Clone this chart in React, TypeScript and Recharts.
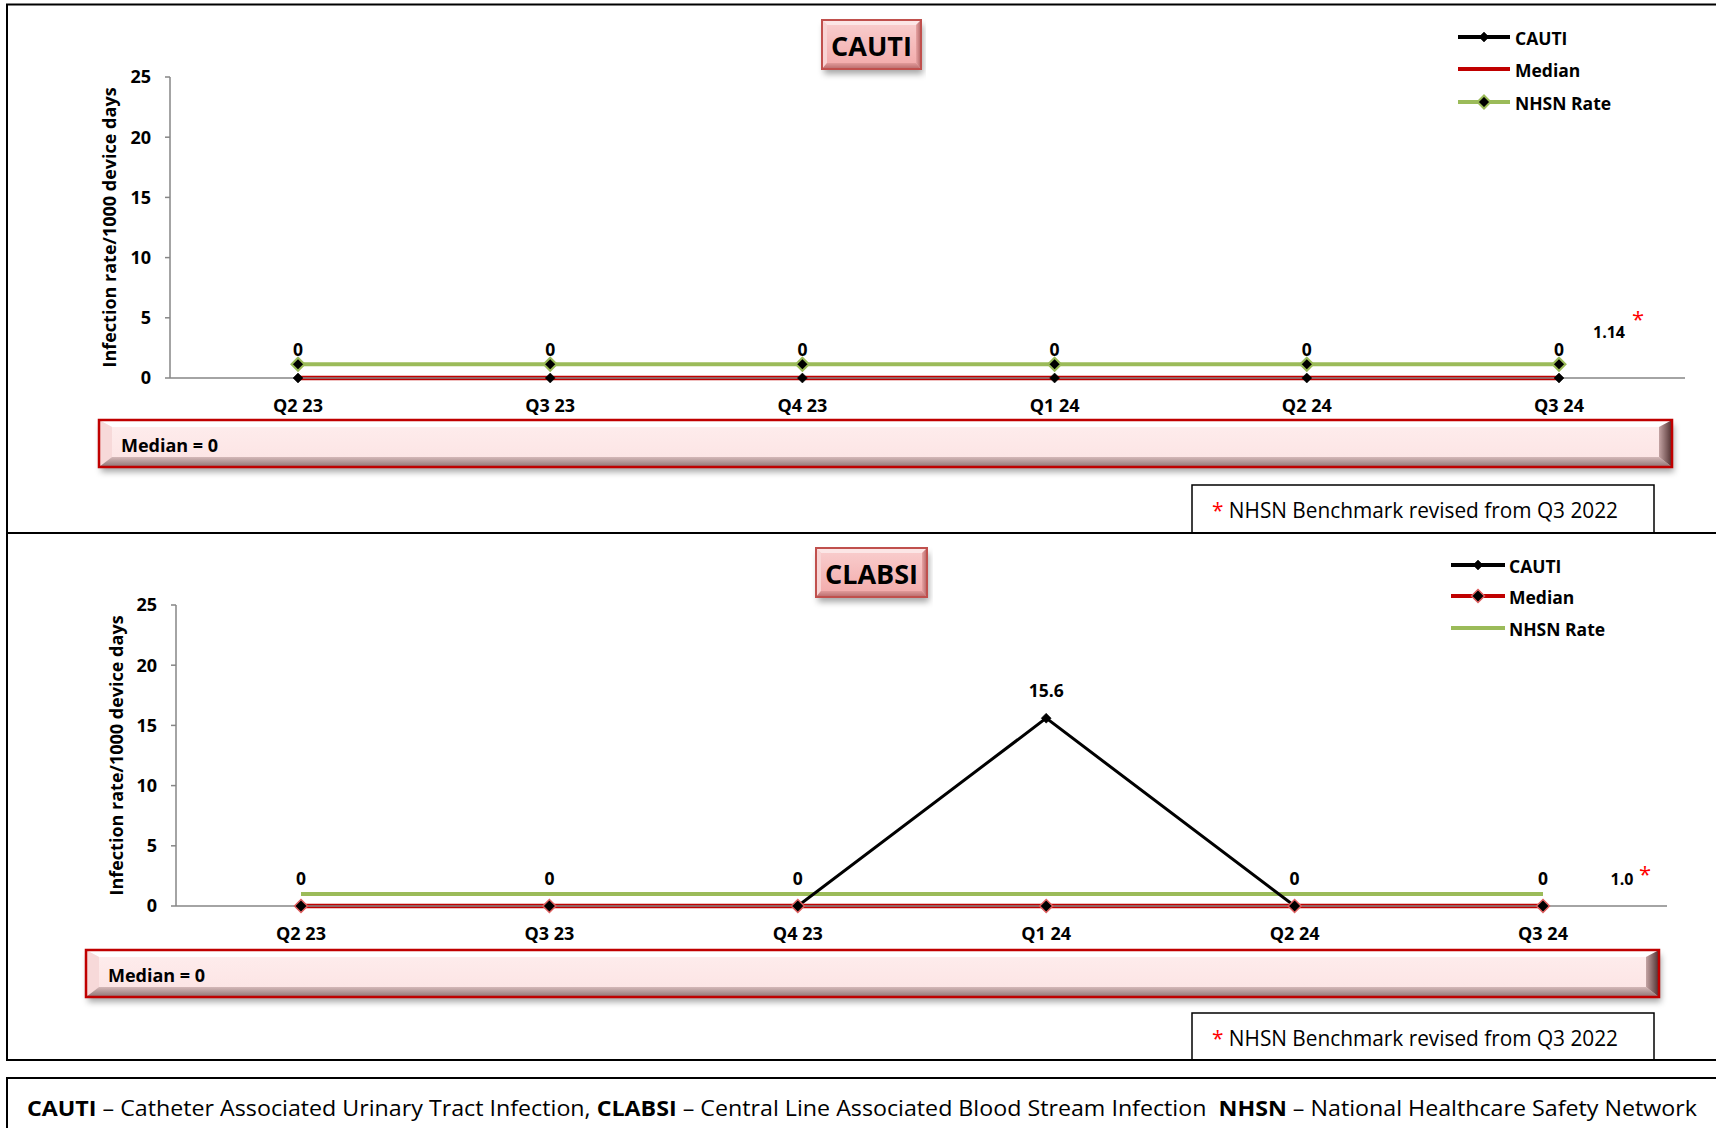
import React from "react";
import { LineChart, Line, XAxis, YAxis, LabelList } from "recharts";

const categories = ["Q2 23", "Q3 23", "Q4 23", "Q1 24", "Q2 24", "Q3 24"];
const cautiRates = [0, 0, 0, 0, 0, 0];
const cautiMedian = [0, 0, 0, 0, 0, 0];
const cautiNhsn = [1.14, 1.14, 1.14, 1.14, 1.14, 1.14];
const clabsiRates = [0, 0, 0, 15.6, 0, 0];
const clabsiMedian = [0, 0, 0, 0, 0, 0];
const clabsiNhsn = [1.0, 1.0, 1.0, 1.0, 1.0, 1.0];
const yTicks = [0, 5, 10, 15, 20, 25];
const legendNames = ["CAUTI", "Median", "NHSN Rate"];
const panelTitles = ["CAUTI", "CLABSI"];
const yAxisTitle = "Infection rate/1000 device days";
const footnoteText = "NHSN Benchmark revised from Q3 2022";

const FONT = "'Open Sans', 'Noto Sans', sans-serif";
const RED = "#C00000";
const GREEN = "#9BBB59";
const AXIS = "#868686";

const buildData = (rate: number[], median: number[], nhsn: number[]) =>
  categories.map((q, i) => ({ q, rate: rate[i], median: median[i], nhsn: nhsn[i] }));

const cautiData = buildData(cautiRates, cautiMedian, cautiNhsn);
const clabsiData = buildData(clabsiRates, clabsiMedian, clabsiNhsn);

const diamond = (half: number, fill: string, stroke: string, sw: number) => (props: any) => {
  const { cx, cy, index } = props;
  if (cx == null || cy == null) return <g key={`d-${index}`} />;
  return (
    <polygon
      key={`d-${index}`}
      points={`${cx},${cy - half} ${cx + half},${cy} ${cx},${cy + half} ${cx - half},${cy}`}
      fill={fill}
      stroke={stroke}
      strokeWidth={sw}
    />
  );
};

const valueLabel = (offset: number) => (props: any) => {
  const { x, y, value, index } = props;
  if (x == null || y == null) return null;
  return (
    <text
      key={`l-${index}`}
      x={x}
      y={y - offset}
      textAnchor="middle"
      dominantBaseline="central"
      fontWeight={700}
      fontSize={17.5}
      fill="#000"
      fontFamily={FONT}
    >
      {value}
    </text>
  );
};

const endLabel = (decimals: number, dx: number, dy: number, sdx: number, sdy: number) => (props: any) => {
  const { x, y, value, index } = props;
  if (index !== categories.length - 1 || x == null) return null;
  return (
    <g key={`e-${index}`}>
      <text x={x + dx} y={y + dy} textAnchor="middle" dominantBaseline="central" fontWeight={700} fontSize={16} fill="#000" fontFamily={FONT}>
        {Number(value).toFixed(decimals)}
      </text>
      <text x={x + sdx} y={y + sdy} textAnchor="middle" dominantBaseline="central" fontSize={22} fill="#FF0000" fontFamily={FONT}>
        *
      </text>
    </g>
  );
};

const yLabel = (dx: number) => (props: any) => {
  const vb = props.viewBox || {};
  const cx = vb.x + dx;
  const cy = vb.y + vb.height / 2;
  return (
    <text
      x={cx}
      y={cy}
      transform={`rotate(-90, ${cx}, ${cy})`}
      textAnchor="middle"
      dominantBaseline="central"
      fontWeight={700}
      fontSize={18}
      fill="#000"
      fontFamily={FONT}
    >
      {yAxisTitle}
    </text>
  );
};

const tickStyle = { fill: "#000", fontSize: 18, fontWeight: 700, fontFamily: FONT };

function TopChart() {
  return (
    <LineChart width={1716} height={533} data={cautiData} margin={{ top: 77, right: 31, bottom: 125, left: 110 }}>
      <XAxis
        dataKey="q"
        interval={0}
        tickLine={false}
        tickSize={0}
        tickMargin={21}
        axisLine={{ stroke: AXIS, strokeWidth: 1.5 }}
        tick={tickStyle}
        padding={{ left: 128, right: 126 }}
      />
      <YAxis
        domain={[0, 25]}
        ticks={yTicks}
        width={60}
        axisLine={{ stroke: AXIS, strokeWidth: 1.5 }}
        tickLine={{ stroke: AXIS, strokeWidth: 1.5 }}
        tickSize={5}
        tickMargin={14}
        tick={tickStyle}
        label={yLabel(-1)}
      />
      <Line dataKey="rate" stroke="#000" strokeWidth={3} isAnimationActive={false} dot={diamond(5, "#000", "#000", 0.5)} activeDot={false}>
        <LabelList dataKey="rate" content={valueLabel(29)} />
      </Line>
      <Line dataKey="median" stroke={RED} strokeWidth={4.5} isAnimationActive={false} dot={false} activeDot={false} />
      <Line dataKey="nhsn" stroke={GREEN} strokeWidth={4} isAnimationActive={false} dot={diamond(6.5, "#000", GREEN, 2)} activeDot={false}>
        <LabelList dataKey="nhsn" content={endLabel(2, 50, -32, 79, -46)} />
      </Line>
    </LineChart>
  );
}

function BottomChart() {
  return (
    <LineChart width={1716} height={527} data={clabsiData} margin={{ top: 72, right: 49, bottom: 124, left: 116 }}>
      <XAxis
        dataKey="q"
        interval={0}
        tickLine={false}
        tickSize={0}
        tickMargin={21}
        axisLine={{ stroke: AXIS, strokeWidth: 1.5 }}
        tick={tickStyle}
        padding={{ left: 125, right: 124 }}
      />
      <YAxis
        domain={[0, 25]}
        ticks={yTicks}
        width={60}
        axisLine={{ stroke: AXIS, strokeWidth: 1.5 }}
        tickLine={{ stroke: AXIS, strokeWidth: 1.5 }}
        tickSize={5}
        tickMargin={14}
        tick={tickStyle}
        label={yLabel(0)}
      />
      <Line dataKey="nhsn" stroke={GREEN} strokeWidth={4} isAnimationActive={false} dot={false} activeDot={false}>
        <LabelList dataKey="nhsn" content={endLabel(1, 79, -15, 102, -21)} />
      </Line>
      <Line dataKey="rate" stroke="#000" strokeWidth={3} isAnimationActive={false} dot={diamond(5, "#000", "#000", 0.5)} activeDot={false}>
        <LabelList dataKey="rate" content={valueLabel(28)} />
      </Line>
      <Line dataKey="median" stroke={RED} strokeWidth={4.5} isAnimationActive={false} dot={diamond(6.5, "#000", "#E06060", 1.5)} activeDot={false} />
    </LineChart>
  );
}

type BevelProps = {
  id: string;
  x: number; y: number; w: number; h: number;
  bl: number; bt: number; br: number; bb: number;
  face: [string, string];
  top: string; left: string; bottom: [string, string]; right: [string, string];
  border: string; bw: number;
};

function BevelBox(p: BevelProps) {
  const { x, y, w, h, bl, bt, br, bb } = p;
  return (
    <g>
      <defs>
        <linearGradient id={`${p.id}-face`} x1="0" y1="0" x2="0" y2="1">
          <stop offset="0" stopColor={p.face[0]} />
          <stop offset="1" stopColor={p.face[1]} />
        </linearGradient>
        <linearGradient id={`${p.id}-bot`} x1="0" y1="0" x2="0" y2="1">
          <stop offset="0" stopColor={p.bottom[0]} />
          <stop offset="1" stopColor={p.bottom[1]} />
        </linearGradient>
        <linearGradient id={`${p.id}-right`} x1="0" y1="0" x2="1" y2="0">
          <stop offset="0" stopColor={p.right[0]} />
          <stop offset="1" stopColor={p.right[1]} />
        </linearGradient>
      </defs>
      <rect x={x} y={y} width={w} height={h} fill={`url(#${p.id}-face)`} filter="url(#dropsh)" />
      <polygon points={`${x},${y} ${x + w},${y} ${x + w - br},${y + bt} ${x + bl},${y + bt}`} fill={p.top} />
      <polygon points={`${x},${y} ${x + bl},${y + bt} ${x + bl},${y + h - bb} ${x},${y + h}`} fill={p.left} />
      <polygon points={`${x},${y + h} ${x + bl},${y + h - bb} ${x + w - br},${y + h - bb} ${x + w},${y + h}`} fill={`url(#${p.id}-bot)`} />
      <polygon points={`${x + w},${y} ${x + w},${y + h} ${x + w - br},${y + h - bb} ${x + w - br},${y + bt}`} fill={`url(#${p.id}-right)`} />
      <rect x={x} y={y} width={w} height={h} fill="none" stroke={p.border} strokeWidth={p.bw} />
    </g>
  );
}

function TitleBox({ id, x, y, w, h, text }: { id: string; x: number; y: number; w: number; h: number; text: string }) {
  return (
    <g>
      <BevelBox
        id={id} x={x} y={y} w={w} h={h} bl={5} bt={5} br={5} bb={6}
        face={["#F9CFCF", "#F2A9A9"]}
        top="#FCE6E6" left="#F8D4D4" bottom={["#E09A9A", "#B86A6A"]} right={["#E8A4A4", "#B06464"]}
        border="#C0504D" bw={2}
      />
      <text x={x + w / 2} y={y + h / 2 + 1} textAnchor="middle" dominantBaseline="central" fontWeight={700} fontSize={27} fill="#000" fontFamily={FONT}>
        {text}
      </text>
    </g>
  );
}

function MedianBar({ id, x, y, w, h, text }: { id: string; x: number; y: number; w: number; h: number; text: string }) {
  return (
    <g>
      <BevelBox
        id={id} x={x} y={y} w={w} h={h} bl={13} bt={7} br={13} bb={10}
        face={["#FEEDED", "#FCE3E3"]}
        top="#FFFFFF" left="#F7D9D9" bottom={["#D4B8B8", "#8E7272"]} right={["#C4A4A4", "#4E2E2E"]}
        border={RED} bw={2.5}
      />
      <text x={x + 22} y={y + h / 2 + 1} dominantBaseline="central" fontWeight={700} fontSize={18} fill="#000" fontFamily={FONT}>
        {text}
      </text>
    </g>
  );
}

function Footnote({ x, y, w, h }: { x: number; y: number; w: number; h: number }) {
  return (
    <g>
      <rect x={x} y={y} width={w} height={h} fill="#fff" stroke="#000" strokeWidth={1.5} />
      <text x={x + 20} y={y + h / 2 + 1} dominantBaseline="central" fontSize={21} fill="#000" fontFamily={FONT} textLength={406} lengthAdjust="spacingAndGlyphs" style={{ whiteSpace: "pre" }}>
        <tspan fill="#FF0000">*</tspan>
        <tspan>{" " + footnoteText}</tspan>
      </text>
    </g>
  );
}

type LegendItem = { name: string; color: string; marker?: (cx: number, cy: number) => React.ReactNode };

function Legend({ x1, x2, tx, ys, items }: { x1: number; x2: number; tx: number; ys: number[]; items: LegendItem[] }) {
  return (
    <g>
      {items.map((it, i) => (
        <g key={it.name + i}>
          <line x1={x1} x2={x2} y1={ys[i]} y2={ys[i]} stroke={it.color} strokeWidth={4} />
          {it.marker ? it.marker((x1 + x2) / 2, ys[i]) : null}
          <text x={tx} y={ys[i] + 1} dominantBaseline="central" fontWeight={700} fontSize={17.5} fill="#000" fontFamily={FONT}>
            {it.name}
          </text>
        </g>
      ))}
    </g>
  );
}

const dm = (half: number, fill: string, stroke: string, sw: number) => (cx: number, cy: number) => (
  <polygon points={`${cx},${cy - half} ${cx + half},${cy} ${cx},${cy + half} ${cx - half},${cy}`} fill={fill} stroke={stroke} strokeWidth={sw} />
);

function Overlay() {
  return (
    <svg width={1716} height={1128} style={{ position: "absolute", left: 0, top: 0 }}>
      <defs>
        <filter id="dropsh" x="-5%" y="-30%" width="110%" height="180%">
          <feDropShadow dx="2" dy="5" stdDeviation="3" floodColor="#000" floodOpacity="0.35" />
        </filter>
      </defs>

      <TitleBox id="t1" x={822} y={20} w={99} h={49} text={panelTitles[0]} />
      <TitleBox id="t2" x={816} y={548} w={111} h={49} text={panelTitles[1]} />

      <MedianBar id="m1" x={99} y={420} w={1573} h={47} text={`Median = ${cautiMedian[0]}`} />
      <MedianBar id="m2" x={86} y={950} w={1573} h={47} text={`Median = ${clabsiMedian[0]}`} />

      <Footnote x={1192} y={485} w={462} h={48} />
      <Footnote x={1192} y={1013} w={462} h={47} />

      {/* panel borders */}
      <rect x={7} y={4.5} width={1740} height={528.5} fill="none" stroke="#000" strokeWidth={2} />
      <rect x={7} y={533} width={1740} height={527} fill="none" stroke="#000" strokeWidth={2} />
      <rect x={7} y={1078} width={1740} height={80} fill="none" stroke="#000" strokeWidth={2} />

      <Legend
        x1={1458} x2={1510} tx={1515} ys={[37, 69, 102]}
        items={[
          { name: legendNames[0], color: "#000", marker: dm(5, "#000", "#000", 0.5) },
          { name: legendNames[1], color: RED },
          { name: legendNames[2], color: GREEN, marker: dm(6.5, "#000", GREEN, 2) },
        ]}
      />
      <Legend
        x1={1451} x2={1505} tx={1509} ys={[565, 596, 628]}
        items={[
          { name: legendNames[0], color: "#000", marker: dm(5, "#000", "#000", 0.5) },
          { name: legendNames[1], color: RED, marker: dm(6.5, "#000", "#E06060", 1.5) },
          { name: legendNames[2], color: GREEN },
        ]}
      />

      <text x={27} y={1108} dominantBaseline="central" fontSize={21} fill="#000" fontFamily={FONT} textLength={1670} lengthAdjust="spacingAndGlyphs" style={{ whiteSpace: "pre" }}>
        <tspan fontWeight={700}>CAUTI</tspan>
        <tspan>{" – Catheter Associated Urinary Tract Infection, "}</tspan>
        <tspan fontWeight={700}>CLABSI</tspan>
        <tspan>{" – Central Line Associated Blood Stream Infection  "}</tspan>
        <tspan fontWeight={700}>NHSN</tspan>
        <tspan>{" – National Healthcare Safety Network"}</tspan>
      </text>
    </svg>
  );
}

export default function App() {
  return (
    <div
      style={{
        position: "absolute",
        left: 0,
        top: 0,
        width: 1716,
        height: 1128,
        overflow: "hidden",
        background: "#fff",
        fontFamily: FONT,
      }}
    >
      <Overlay />
      <div style={{ position: "absolute", left: 0, top: 0 }}>
        <TopChart />
      </div>
      <div style={{ position: "absolute", left: 0, top: 533 }}>
        <BottomChart />
      </div>
    </div>
  );
}
